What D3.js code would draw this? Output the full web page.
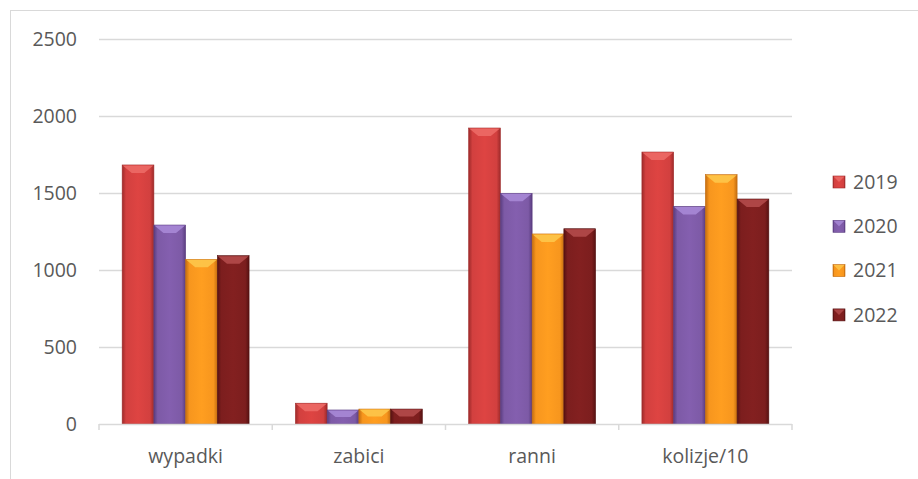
<!DOCTYPE html>
<html>
<head>
<meta charset="utf-8">
<script src="https://cdn.jsdelivr.net/npm/d3@7"></script>
<style>
  body { margin: 0; background: #fff; }
  svg { display: block; font-family: "Open Sans", sans-serif; }
</style>
</head>
<body>
<div id="chart"></div>
<script>
// categories and series
const categories = ["wypadki", "zabici", "ranni", "kolizje/10"];
const years = ["2019", "2020", "2021", "2022"];
const v2019 = [1682, 135, 1922, 1766];
const v2020 = [1292, 91, 1498, 1413];
const v2021 = [1069, 97, 1234, 1619];
const v2022 = [1093, 97, 1268, 1461];
const yTicks = [0, 500, 1000, 1500, 2000, 2500];

const series = [v2019, v2020, v2021, v2022];
const colors = {
  "2019": { base: "#d2403f", light: "#ec6a66", dark: "#9e2a2a" },
  "2020": { base: "#7d5aa6", light: "#a788d6", dark: "#5a3d80" },
  "2021": { base: "#f7961e", light: "#fdc64a", dark: "#c46d10" },
  "2022": { base: "#7c1e1e", light: "#b24a4a", dark: "#561212" }
};

const width = 918, height = 479;
const plot = { left: 99, right: 792, top: 39, bottom: 424 };
const fontSize = 19.5;

const svg = d3.select("#chart").append("svg")
  .attr("width", width)
  .attr("height", height);

// chart frame
svg.append("rect")
  .attr("x", 10.5).attr("y", 10.5)
  .attr("width", 920).attr("height", 480)
  .attr("fill", "none")
  .attr("stroke", "#d9d9d9");

const defs = svg.append("defs");
years.forEach(function(yr) {
  const c = colors[yr];
  const g = defs.append("linearGradient")
    .attr("id", "g" + yr)
    .attr("x1", 0).attr("x2", 1).attr("y1", 0).attr("y2", 0);
  g.append("stop").attr("offset", "0").attr("stop-color", c.dark);
  g.append("stop").attr("offset", "0.12").attr("stop-color", c.base);
  g.append("stop").attr("offset", "0.5").attr("stop-color", d3.color(c.base).brighter(0.15));
  g.append("stop").attr("offset", "0.88").attr("stop-color", c.base);
  g.append("stop").attr("offset", "1").attr("stop-color", c.dark);
});

const y = d3.scaleLinear().domain([0, 2500]).range([plot.bottom, plot.top]);
const x0 = d3.scaleBand().domain(categories).range([plot.left, plot.right]).padding(0);
const x1 = d3.scaleBand().domain(years).range([0, x0.bandwidth()])
  .paddingInner(0).paddingOuter(0.73);

// gridlines
svg.append("g")
  .selectAll("line")
  .data(yTicks.filter(d => d > 0))
  .join("line")
  .attr("x1", plot.left).attr("x2", plot.right)
  .attr("y1", d => Math.round(y(d)) + 0.5)
  .attr("y2", d => Math.round(y(d)) + 0.5)
  .attr("stroke", "#d9d9d9")
  .attr("stroke-width", 1.3);

// y labels
svg.append("g")
  .selectAll("text")
  .data(yTicks)
  .join("text")
  .attr("x", 77)
  .attr("y", d => y(d))
  .attr("dy", "0.35em")
  .attr("text-anchor", "end")
  .attr("font-size", fontSize)
  .attr("fill", "#595959")
  .text(d => d);

// bars
const groups = svg.append("g")
  .selectAll("g")
  .data(categories)
  .join("g")
  .attr("transform", d => "translate(" + x0(d) + ",0)");

groups.each(function(cat, ci) {
  const g = d3.select(this);
  years.forEach(function(yr, si) {
    const val = series[si][ci];
    const bx = x1(yr), bw = x1.bandwidth();
    const by = y(val), bh = y(0) - y(val);
    const c = colors[yr];
    g.append("rect")
      .attr("x", bx).attr("y", by)
      .attr("width", bw).attr("height", bh)
      .attr("fill", "url(#g" + yr + ")")
      .attr("stroke", c.dark)
      .attr("stroke-width", 0.6);
    const b = Math.min(8, bh / 2);
    g.append("polygon")
      .attr("points", [
        [bx + 0.5, by + 0.5], [bx + bw - 0.5, by + 0.5],
        [bx + bw - b * 1.2, by + b], [bx + b * 1.2, by + b]
      ].map(p => p.join(",")).join(" "))
      .attr("fill", c.light)
      .attr("opacity", 0.9);
  });
});

// x axis
svg.append("line")
  .attr("x1", plot.left).attr("x2", plot.right)
  .attr("y1", plot.bottom + 0.5).attr("y2", plot.bottom + 0.5)
  .attr("stroke", "#d9d9d9").attr("stroke-width", 1.5);

svg.append("g")
  .selectAll("line")
  .data(categories.map(c => x0(c)).concat([plot.right]))
  .join("line")
  .attr("x1", d => d).attr("x2", d => d)
  .attr("y1", plot.bottom).attr("y2", plot.bottom + 6)
  .attr("stroke", "#d9d9d9").attr("stroke-width", 1.5);

svg.append("g")
  .selectAll("text")
  .data(categories)
  .join("text")
  .attr("x", d => x0(d) + x0.bandwidth() / 2)
  .attr("y", 463)
  .attr("text-anchor", "middle")
  .attr("font-size", fontSize)
  .attr("fill", "#595959")
  .text(d => d);

// legend
const legend = svg.append("g")
  .selectAll("g")
  .data(years)
  .join("g")
  .attr("transform", (d, i) => "translate(833," + (182 + i * 44.3) + ")");

legend.append("rect")
  .attr("x", 0).attr("y", -6)
  .attr("width", 12).attr("height", 12)
  .attr("fill", d => "url(#g" + d + ")")
  .attr("stroke", d => colors[d].dark)
  .attr("stroke-width", 0.6);

legend.append("polygon")
  .attr("points", "0.5,-5.5 11.5,-5.5 6,0")
  .attr("fill", d => colors[d].light)
  .attr("opacity", 0.85);

legend.append("text")
  .attr("x", 20)
  .attr("y", 0)
  .attr("dy", "0.35em")
  .attr("font-size", fontSize)
  .attr("fill", "#595959")
  .text(d => d);
</script>
</body>
</html>
